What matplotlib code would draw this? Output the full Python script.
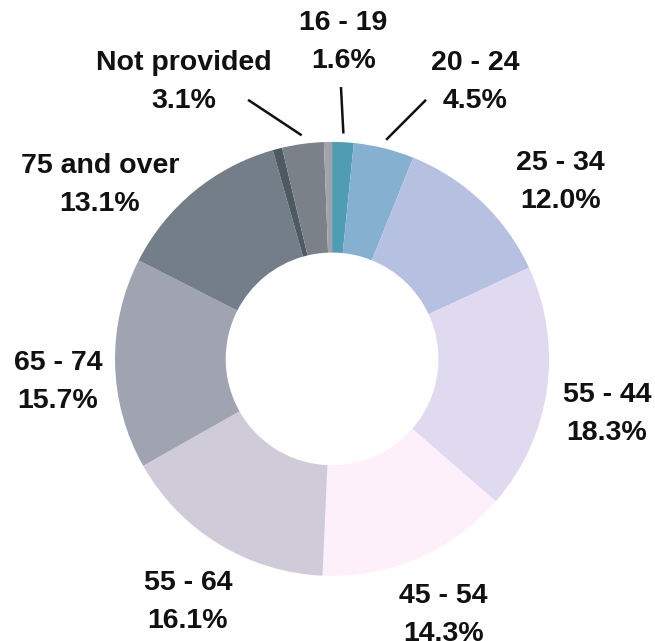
import numpy as np
import matplotlib.pyplot as plt

plt.rcParams['font.family'] = ['Liberation Sans', 'DejaVu Sans']

# Age groups, clockwise from the top; two small unlabeled slices close the ring
groups = ['16 - 19', '20 - 24', '25 - 34', '55 - 44', '45 - 54',
          '55 - 64', '65 - 74', '75 and over', '', 'Not provided', '']
shares = [1.6, 4.5, 12.0, 18.3, 14.3, 16.1, 15.7, 13.1, 0.7, 3.1, 0.6]
colors = ['#4f9db2', '#86b0d0', '#b6c1e1', '#e0daf0', '#fdf0fb',
          '#cfcbd9', '#a0a4b1', '#737e89', '#4e5a62', '#7b8189', '#a3a4aa']

# label centres (data units) and which labels get a leader line
label_pos = {
    '16 - 19': (0.051, 1.461),
    'Not provided': (-0.682, 1.276),
    '20 - 24': (0.659, 1.276),
    '25 - 34': (1.051, 0.816),
    '55 - 44': (1.267, -0.253),
    '45 - 54': (0.512, -1.180),
    '55 - 64': (-0.664, -1.120),
    '65 - 74': (-1.263, -0.106),
    '75 and over': (-1.069, 0.802),
}
leader_start = {
    '16 - 19': (0.041, 1.253),
    'Not provided': (-0.387, 1.194),
    '20 - 24': (0.433, 1.194),
}

fig = plt.figure(figsize=(6.55, 6.41), dpi=100)
ax = fig.add_axes([0, 0, 1, 1])

wedges, _ = ax.pie(shares, colors=colors, startangle=90, counterclock=False,
                   radius=1.0, wedgeprops=dict(width=0.51, linewidth=0))

for w, name, val in zip(wedges, groups, shares):
    if not name:
        continue
    x, y = label_pos[name]
    ax.text(x, y, f'{name}\n{val:.1f}%', ha='center', va='center',
            fontsize=20.5, fontweight='bold', color='#111111', linespacing=1.58)
    if name in leader_start:
        mid = np.deg2rad((w.theta1 + w.theta2) / 2)
        ex, ey = 1.04 * np.cos(mid), 1.04 * np.sin(mid)
        sx, sy = leader_start[name]
        ax.plot([sx, ex], [sy, ey], color='#111111', lw=1.8,
                solid_capstyle='butt')

ax.set_aspect('auto')
ax.set_xlim(-1.530, 1.488)
ax.set_ylim(-1.300, 1.654)
ax.axis('off')

fig.savefig('out.png', dpi=100, facecolor='white')
